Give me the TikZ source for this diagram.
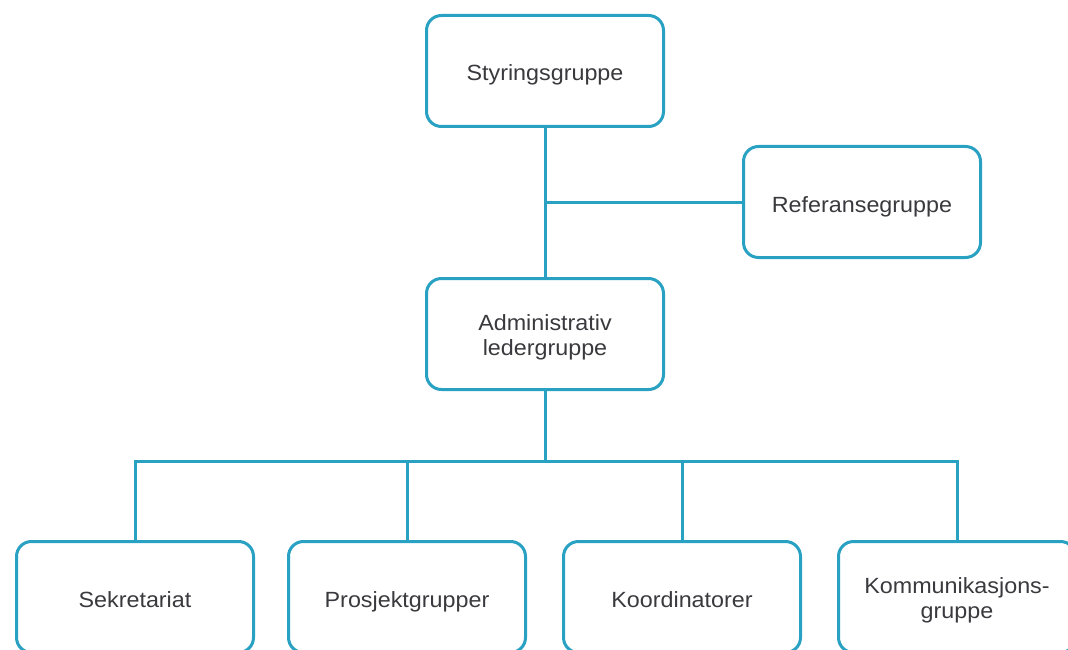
\documentclass[tikz,border=0pt]{standalone}
\usepackage{fontspec}
\setmainfont{Liberation Sans}[FakeStretch=1.06]
\usepackage{tikz}
\usetikzlibrary{positioning,calc}
\usepackage{xcolor}
\definecolor{lineTeal}{RGB}{41, 161, 194}
\definecolor{darkText}{RGB}{58, 58, 62}

\tikzset{
    orgbox/.style={rounded corners=15pt,fill=white,draw=lineTeal,line width=3pt,
          minimum width=237pt,minimum height=111pt,align=center,
          text height=22pt,text depth=2pt,
          text=darkText,font=\fontsize{22}{25}\selectfont},
    twoline/.style={text height=44pt},
    orgline/.style={draw=lineTeal,line width=3pt}
}

\begin{document}
\begin{tikzpicture}[x=1pt,y=-1pt]
        \clip (0,0) rectangle (1068,650);
        \fill[white] (0,0) rectangle (1068,650);

        % top levels
        \node[orgbox] (styr) at (545,71) {Styringsgruppe};
        \node[orgbox] (ref) at (862,202) {Referansegruppe};
        \node[orgbox,twoline] (admin) at (545,334) {Administrativ\\ledergruppe};

        % bottom row
        \node[orgbox] (sek) at (135,597) {Sekretariat};
        \node[orgbox] (pros) at (407,597) {Prosjektgrupper};
        \node[orgbox] (koord) at (682,597) {Koordinatorer};
        \node[orgbox,twoline] (komm) at (957,597) {Kommunikasjons-\\gruppe};

        \coordinate (bus) at (545,461);

        \draw[orgline] (styr) -- (admin);
        \draw[orgline] (ref.west) -- (ref.west -| styr.south);
        \draw[orgline] (admin) -- (bus);
        \foreach \b in {sek,pros,koord,komm}
            \draw[orgline] (bus) -| (\b);
    \end{tikzpicture}
\end{document}
